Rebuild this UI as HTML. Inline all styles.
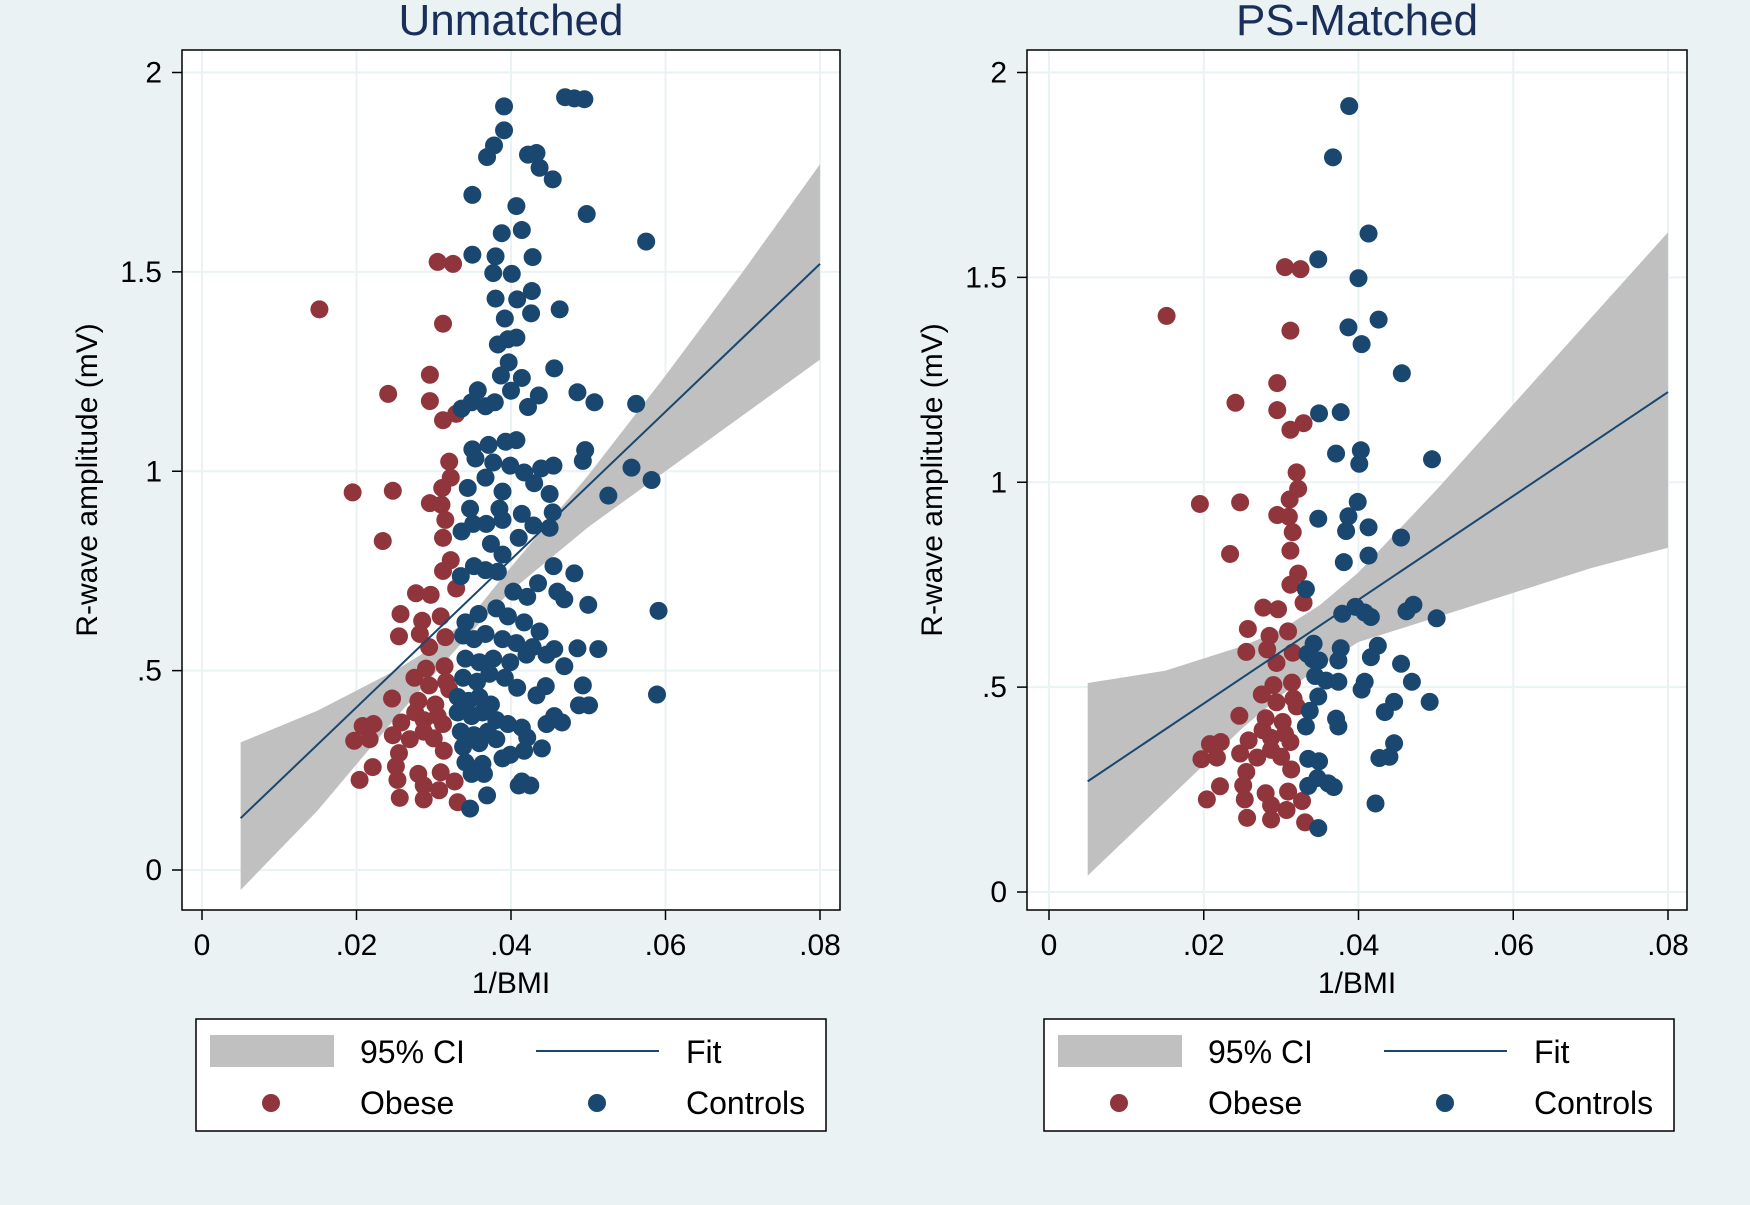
<!DOCTYPE html>
<html><head><meta charset="utf-8"><style>
html,body{margin:0;padding:0;background:#eaf2f3;}
svg{display:block;font-family:"Liberation Sans",sans-serif;}
</style></head><body>
<svg id="chart" width="1750" height="1205" viewBox="0 0 1750 1205" xmlns="http://www.w3.org/2000/svg">
<rect x="0" y="0" width="1750" height="1205" fill="#eaf2f3"/>
</svg>
<script>
const xTicks=[0,0.02,0.04,0.06,0.08];
const xTickLabels=["0",".02",".04",".06",".08"];
const yTicks=[0,0.5,1,1.5,2];
const yTickLabels=["0",".5","1","1.5","2"];
const titles=["Unmatched","PS-Matched"];
const fitLeft=[[0.005,0.13],[0.08,1.52]];
const fitRight=[[0.005,0.27],[0.08,1.22]];
const ciX=[0.005,0.015,0.025,0.03,0.035,0.04,0.05,0.06,0.07,0.08];
const ciLoLeft=[-0.05,0.15,0.38,0.49,0.6,0.7,0.86,1.0,1.14,1.28];
const ciHiLeft=[0.32,0.4,0.5,0.56,0.64,0.76,0.99,1.24,1.5,1.77];
const ciLoRight=[0.04,0.22,0.4,0.48,0.55,0.61,0.67,0.73,0.79,0.84];
const ciHiRight=[0.51,0.54,0.6,0.64,0.7,0.78,0.98,1.19,1.4,1.61];
const obeseX=[.0152,.0305,.0325,.0312,.0295,.0241,.0295,.0312,.0329,.0195,.0247,.0234,.032,.0322,.0311,.0295,.031,.0315,.0312,.0322,.0312,.0329,.0277,.0296,.0257,.0255,.0285,.0282,.0309,.0315,.0294,.029,.0314,.0275,.0294,.0316,.0246,.028,.0302,.0287,.0312,.0208,.0222,.0258,.0197,.0217,.0247,.0269,.0313,.0255,.0221,.0251,.028,.0309,.0204,.0253,.0287,.0327,.0256,.0287,.0307,.0331,.0287,.03,.0276,.032,.0305];
const obeseY=[1.406,1.525,1.52,1.37,1.242,1.194,1.176,1.128,1.144,.947,.951,.825,1.024,.984,.958,.92,.916,.878,.833,.777,.75,.706,.694,.69,.642,.586,.625,.592,.636,.584,.559,.505,.511,.482,.463,.472,.43,.424,.415,.376,.366,.361,.366,.37,.324,.328,.338,.328,.299,.293,.258,.26,.241,.245,.226,.226,.212,.222,.181,.177,.2,.17,.347,.33,.395,.453,.386];
const ctrlLX=[.0391,.047,.0482,.0495,.0391,.0378,.0369,.0422,.0433,.0437,.0454,.035,.0407,.0498,.0575,.0388,.0414,.035,.038,.0428,.0377,.0401,.038,.0408,.0427,.0463,.0392,.0426,.0383,.0396,.0407,.0397,.0387,.0414,.0456,.04,.0436,.0486,.0508,.0562,.0336,.0357,.0349,.0367,.0379,.0422,.035,.0371,.0393,.0407,.0496,.0493,.0354,.0377,.0399,.0417,.0439,.0455,.0556,.0582,.0344,.0367,.0389,.043,.045,.0526,.0347,.0385,.0414,.0454,.0336,.0351,.0368,.0389,.041,.0429,.045,.0374,.0389,.0455,.0482,.0335,.0352,.0367,.0383,.0403,.0421,.0435,.046,.0469,.05,.0591,.0341,.0358,.0381,.0396,.0417,.0437,.0338,.0352,.0367,.0389,.0407,.0428,.0456,.0486,.0513,.0341,.0359,.0377,.0399,.042,.0446,.0469,.0338,.0356,.0372,.0392,.0408,.0433,.0445,.0493,.0589,.0488,.0501,.0331,.0345,.0359,.0374,.0331,.0349,.0363,.0381,.0396,.0414,.0446,.0466,.0335,.0352,.037,.0421,.0456,.0338,.0359,.0381,.0417,.044,.0341,.0363,.0389,.0399,.0349,.0365,.0414,.0425,.0369,.0347,.041];
const ctrlLY=[1.915,1.938,1.935,1.933,1.855,1.817,1.788,1.794,1.798,1.761,1.732,1.693,1.665,1.645,1.576,1.597,1.605,1.543,1.539,1.537,1.497,1.495,1.433,1.431,1.452,1.406,1.383,1.396,1.318,1.331,1.335,1.273,1.24,1.234,1.258,1.202,1.19,1.198,1.173,1.169,1.157,1.203,1.173,1.163,1.173,1.161,1.055,1.066,1.074,1.078,1.053,1.026,1.032,1.022,1.014,.997,1.007,1.014,1.009,.978,.958,.984,.949,.97,.943,.939,.906,.906,.893,.897,.849,.868,.868,.878,.833,.864,.858,.818,.791,.762,.744,.737,.762,.752,.748,.698,.685,.719,.698,.679,.665,.65,.621,.642,.656,.636,.621,.598,.588,.579,.592,.579,.569,.559,.554,.556,.554,.53,.521,.53,.521,.54,.54,.511,.482,.472,.492,.482,.457,.438,.461,.463,.44,.413,.413,.434,.424,.434,.415,.395,.386,.395,.376,.366,.357,.366,.37,.347,.338,.347,.332,.386,.309,.318,.328,.299,.305,.27,.266,.28,.289,.241,.241,.222,.212,.187,.154,.212];
const ctrlRX=[.0388,.0367,.0413,.0348,.04,.0387,.0426,.0404,.0456,.0349,.0377,.0371,.0403,.0401,.0399,.0495,.0348,.0387,.0384,.0413,.0455,.0381,.0413,.0332,.0379,.0396,.0408,.0416,.0462,.0471,.0501,.0342,.0377,.0425,.0416,.0334,.0349,.0374,.0455,.0358,.0374,.0408,.0469,.0348,.0404,.0446,.0492,.0337,.0371,.0434,.0332,.0374,.0446,.0427,.044,.0335,.0349,.0347,.0361,.0368,.0335,.0422,.0348,.0341,.0344];
const ctrlRY=[1.918,1.793,1.607,1.544,1.498,1.378,1.397,1.337,1.266,1.168,1.171,1.07,1.078,1.045,.952,1.056,.911,.917,.881,.89,.865,.805,.821,.739,.679,.696,.682,.671,.685,.701,.668,.606,.595,.601,.573,.581,.565,.565,.557,.516,.513,.513,.513,.477,.494,.464,.464,.442,.423,.439,.404,.404,.363,.327,.33,.325,.319,.278,.265,.256,.259,.216,.156,.568,.527];

const NS="http://www.w3.org/2000/svg";
const svg=document.getElementById('chart');
function mk(tag,attrs,parent){const e=document.createElementNS(NS,tag);for(const k in attrs)e.setAttribute(k,attrs[k]);(parent||svg).appendChild(e);return e;}
const RED="#90353b",BLUE="#1a476f";

const panels=[
 {off:0,frame:[182,50,840,910],x0:202,x1:820,y0:870,y1:72.5,title:titles[0],fit:fitLeft,lo:ciLoLeft,hi:ciHiLeft,cx:ctrlLX,cy:ctrlLY,name:'unmatched'},
 {off:848,frame:[1027,50,1687,910],x0:1049,x1:1668,y0:892,y1:72.5,title:titles[1],fit:fitRight,lo:ciLoRight,hi:ciHiRight,cx:ctrlRX,cy:ctrlRY,name:'ps-matched'}
];
panels.forEach(p=>{
 const g=mk('g',{});
 
 
 const X=v=>p.x0+v/0.08*(p.x1-p.x0);
 const Y=v=>p.y0+v/2*(p.y1-p.y0);
 const [fl,ft,fr,fb]=p.frame;
 const pr=mk('rect',{x:fl,y:ft,width:fr-fl,height:fb-ft,fill:'#ffffff'},g);
 
 
 xTicks.forEach(t=>{mk('line',{x1:X(t),x2:X(t),y1:ft,y2:fb,stroke:'#eaf2f3','stroke-width':2},g);});
 yTicks.forEach(t=>{mk('line',{x1:fl,x2:fr,y1:Y(t),y2:Y(t),stroke:'#eaf2f3','stroke-width':2},g);});
 let d='M'+ciX.map((x,i)=>X(x)+','+Y(p.hi[i])).join(' L');
 d+=' L'+ciX.map((x,i)=>X(x)+','+Y(p.lo[i])).reverse().join(' L')+' Z';
 const band=mk('path',{d:d,fill:'#c0c0c0'},g);
 
 
 obeseX.forEach((x,i)=>{const c=mk('circle',{cx:X(x),cy:Y(obeseY[i]),r:9,fill:RED},g);
  
  });
 p.cx.forEach((x,i)=>{const c=mk('circle',{cx:X(x),cy:Y(p.cy[i]),r:9,fill:BLUE},g);
  
  });
 const fl2=mk('line',{x1:X(p.fit[0][0]),y1:Y(p.fit[0][1]),x2:X(p.fit[1][0]),y2:Y(p.fit[1][1]),stroke:BLUE,'stroke-width':2},g);
 
 
 const fr2=mk('rect',{x:fl,y:ft,width:fr-fl,height:fb-ft,fill:'none',stroke:'#000','stroke-width':1.5},g);
 
 
 xTicks.forEach((t,i)=>{mk('line',{x1:X(t),x2:X(t),y1:fb,y2:fb+10,stroke:'#000','stroke-width':1.5},g);
  const tx=mk('text',{x:X(t),y:fb+45,'font-size':30,'text-anchor':'middle',fill:'#000'},g);tx.textContent=xTickLabels[i];
  
  });
 yTicks.forEach((t,i)=>{mk('line',{x1:fl-10,x2:fl,y1:Y(t),y2:Y(t),stroke:'#000','stroke-width':1.5},g);
  const tx=mk('text',{x:fl-20,y:Y(t)+10,'font-size':30,'text-anchor':'end',fill:'#000'},g);tx.textContent=yTickLabels[i];
  
  });
 const cxm=(fl+fr)/2;
 const ti=mk('text',{x:cxm,y:35,'font-size':44,'text-anchor':'middle',fill:'#1a2e5a'},g);ti.textContent=p.title;
 
 
 const xl=mk('text',{x:cxm,y:993,'font-size':30,'text-anchor':'middle',fill:'#000'},g);xl.textContent='1/BMI';
 
 
 const yx=fl-85;
 const yl=mk('text',{x:yx,y:480,'font-size':30,'text-anchor':'middle',fill:'#000',transform:`rotate(-90 ${yx} 480)`},g);yl.textContent='R-wave amplitude (mV)';
 
 
 const o=p.off;
 const lg=mk('g',{},g);
 
 
 mk('rect',{x:196+o,y:1019,width:630,height:112,fill:'#ffffff',stroke:'#000','stroke-width':1.5},lg);
 mk('rect',{x:210+o,y:1035,width:124,height:32,fill:'#c0c0c0'},lg);
 mk('line',{x1:536+o,x2:659+o,y1:1051,y2:1051,stroke:BLUE,'stroke-width':2},lg);
 mk('circle',{cx:271+o,cy:1103,r:9,fill:RED},lg);
 mk('circle',{cx:597+o,cy:1103,r:9,fill:BLUE},lg);
 [['95% CI',360,1063],['Fit',686,1063],['Obese',360,1114],['Controls',686,1114]].forEach(a=>{
  const t=mk('text',{x:a[1]+o,y:a[2],'font-size':32,fill:'#000'},lg);t.textContent=a[0];
  
  });
});
</script>
</body></html>
